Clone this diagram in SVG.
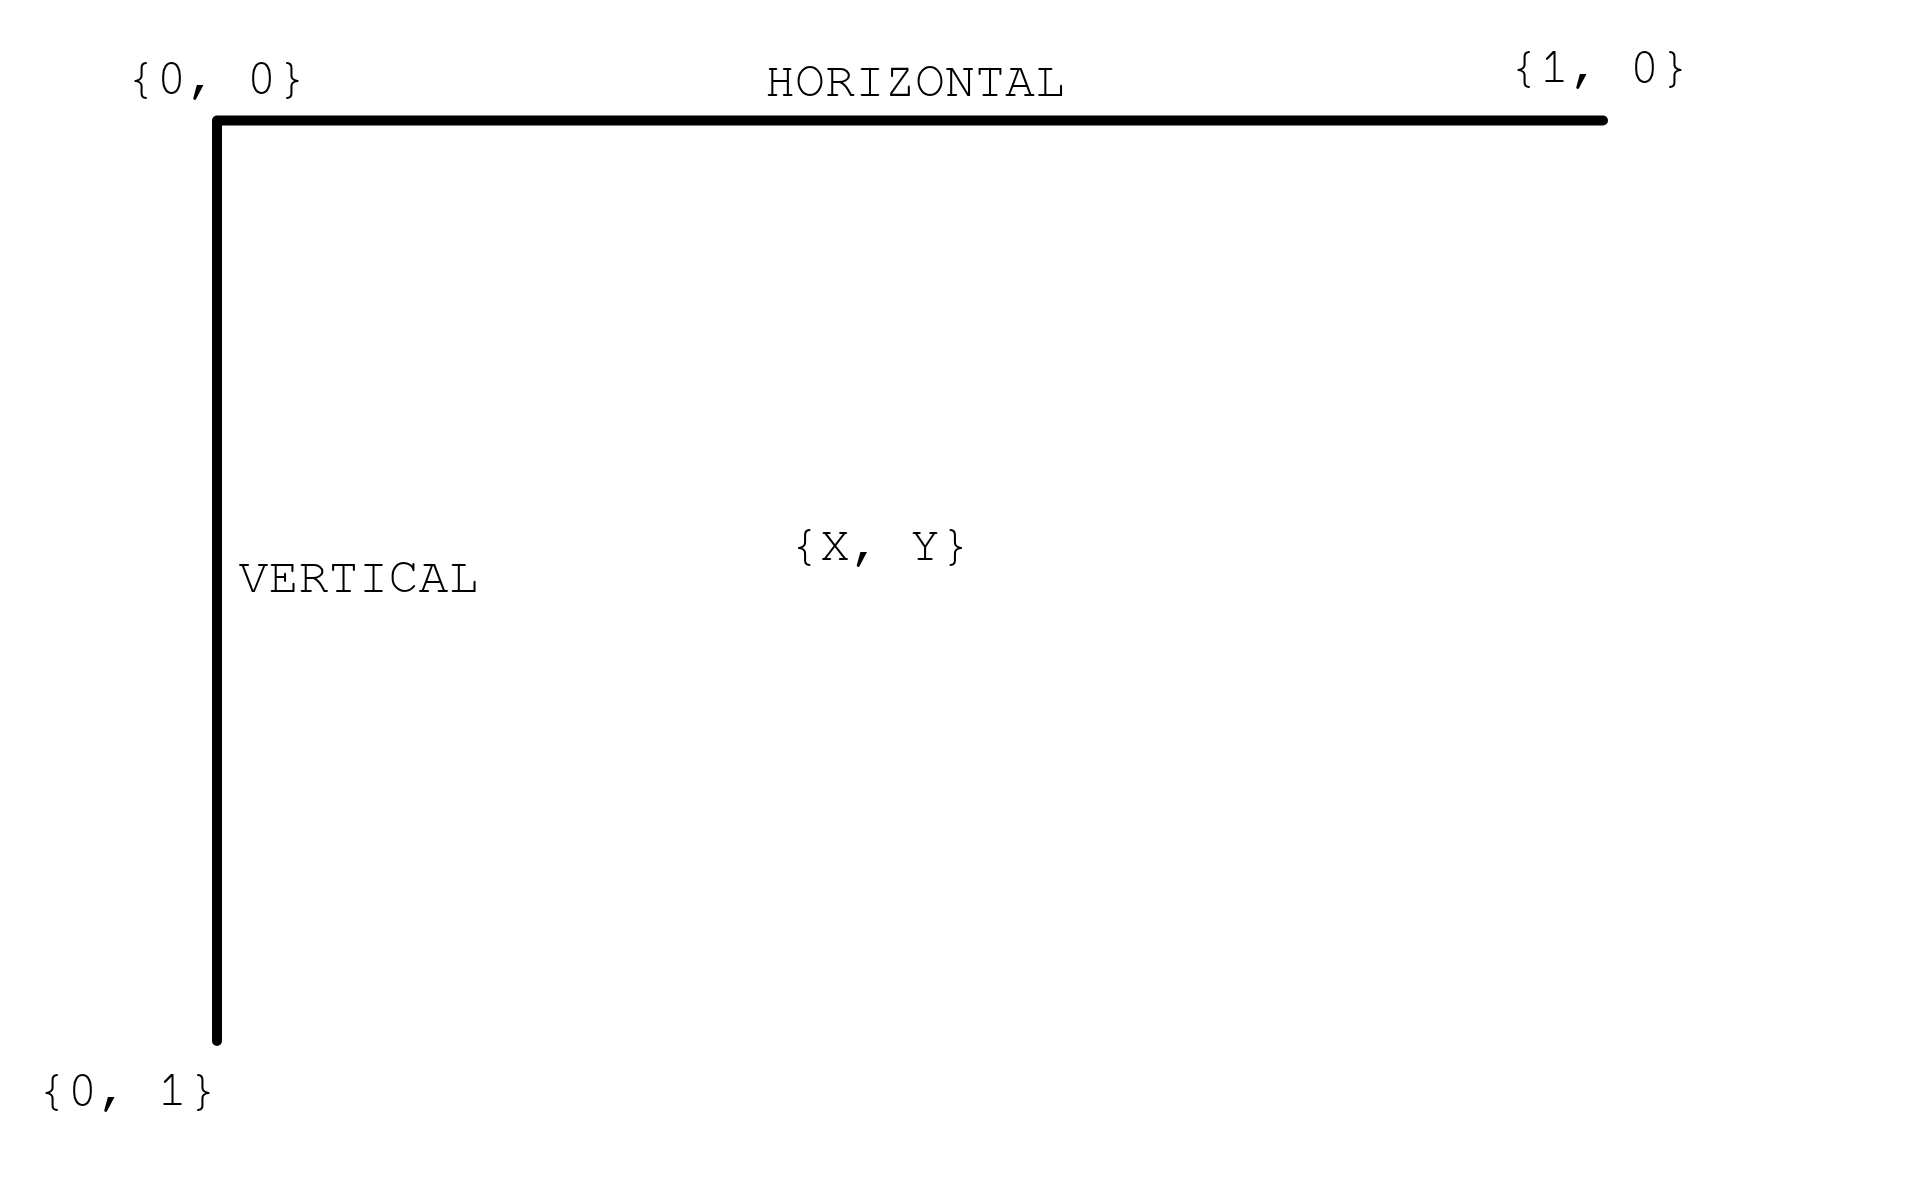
<svg xmlns="http://www.w3.org/2000/svg" width="1920" height="1200" viewBox="0 0 1920 1200">
<style>
text{font-family:"FreeMono","Liberation Mono","Courier New",monospace;font-size:50px;fill:#000;text-anchor:middle}
.axis{fill:none;stroke:#000;stroke-width:10;stroke-linecap:round;stroke-linejoin:round}
</style>
<rect width="1920" height="1200" fill="#fff"/>
<g id="connectors">
<polyline class="axis" points="1603,120.5 217,120.5 217,1041"/>
</g>
<g id="origin"><text x="216.5" y="93">{0, 0}</text></g>
<g id="horizontal-label"><text x="915" y="96">HORIZONTAL</text></g>
<g id="x-end"><text x="1599.5" y="82">{1, 0}</text></g>
<g id="vertical-label"><text x="358.5" y="592">VERTICAL</text></g>
<g id="point"><text x="880" y="560">{X, Y}</text></g>
<g id="y-end"><text x="127.5" y="1105">{0, 1}</text></g>
</svg>
